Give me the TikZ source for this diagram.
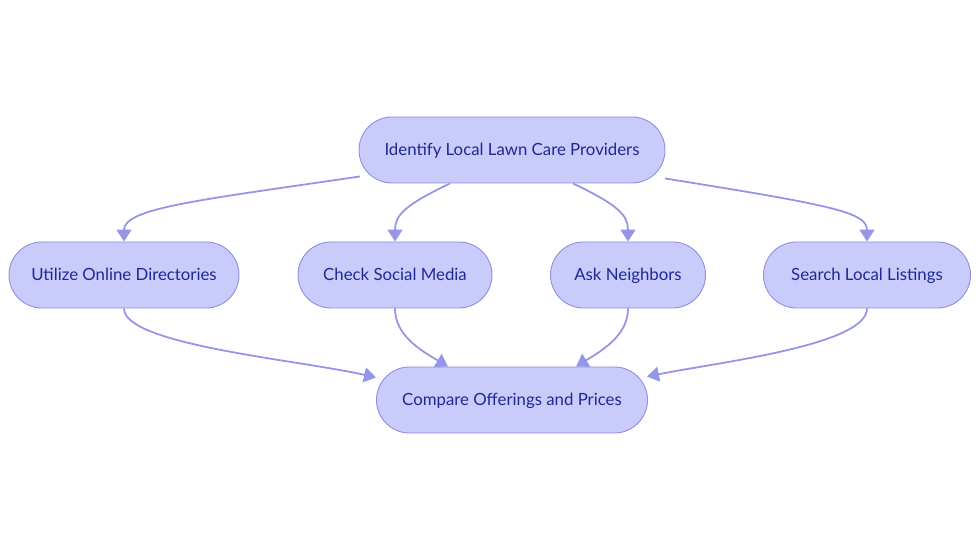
\documentclass[tikz,border=0pt]{standalone}
\usepackage{fontspec}
\setmainfont{Lato}
\usetikzlibrary{shapes.misc,arrows.meta}
\definecolor{nodefill}{RGB}{201,203,251}
\definecolor{nodeedge}{RGB}{143,143,222}
\definecolor{nodetext}{RGB}{32,40,150}
\definecolor{edgecol}{RGB}{150,150,232}
\begin{document}
\begin{tikzpicture}[x=1pt,y=-1pt,
  box/.style={rounded rectangle, draw=nodeedge, fill=nodefill, line width=0.9pt,
    text=nodetext, font=\fontsize{16.8}{19}\selectfont, minimum height=66pt, inner xsep=0pt,
    text height=13pt, text depth=2pt},
  conn/.style={draw=edgecol, line width=1.8pt, -{Triangle[width=15pt,length=12pt]}}]
\useasboundingbox (0,0) rectangle (980,553);
\node[box, minimum width=306pt] (top) at (512,150) {Identify Local Lawn Care Providers};
\node[box, minimum width=230pt] (util) at (124,275) {Utilize Online Directories};
\node[box, minimum width=194pt] (soc) at (395,275) {Check Social Media};
\node[box, minimum width=155pt] (ask) at (628,275) {Ask Neighbors};
\node[box, minimum width=207pt] (srch) at (867,275) {Search Local Listings};
\node[box, minimum width=271pt] (cmp) at (512,400) {Compare Offerings and Prices};
\draw[conn] ([xshift=-152pt,yshift=7pt]top.south) .. controls (200,200) and (124,208) .. (util.north);
\draw[conn] ([xshift=-62pt]top.south) .. controls (405,205) and (395,215) .. (soc.north);
\draw[conn] ([xshift=61pt]top.south) .. controls (618,205) and (628,215) .. (ask.north);
\draw[conn] ([xshift=153pt,yshift=5pt]top.south) .. controls (830,205) and (867,212) .. (srch.north);
\draw[conn] (util.south) .. controls (124,345) and (300,360) .. ([xshift=-136pt,yshift=-11pt]cmp.north);
\draw[conn] (soc.south) .. controls (395,335) and (420,350) .. ([xshift=-64pt]cmp.north);
\draw[conn] (ask.south) .. controls (628,335) and (603,350) .. ([xshift=64pt]cmp.north);
\draw[conn] (srch.south) .. controls (867,345) and (720,362) .. ([xshift=135pt,yshift=-10pt]cmp.north);
\end{tikzpicture}
\end{document}
